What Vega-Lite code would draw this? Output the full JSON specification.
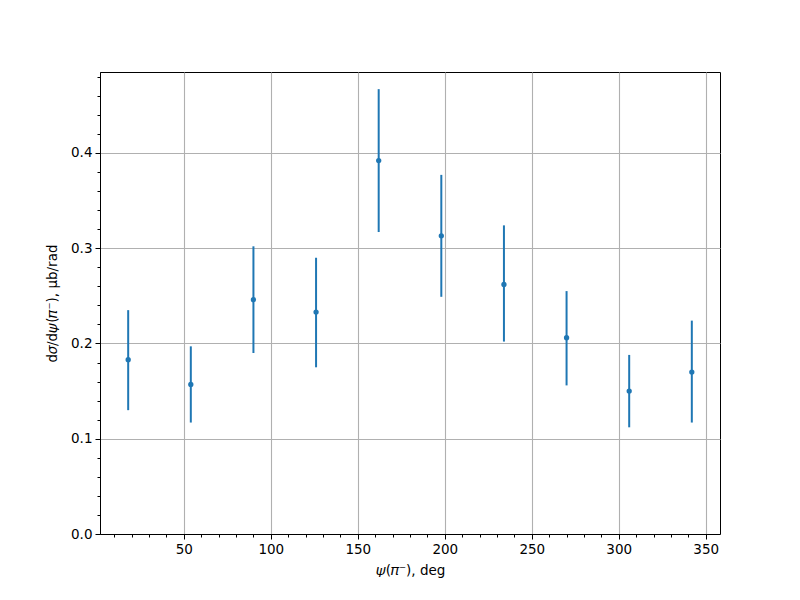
{
  "$schema": "https://vega.github.io/schema/vega-lite/v6.json",
  "width": 620,
  "height": 462,
  "autosize": {"type": "none"},
  "padding": {"left": 100, "top": 72, "right": 80, "bottom": 66},
  "background": "white",
  "config": {
    "view": {"stroke": "black", "strokeWidth": 1},
    "axis": {
      "labelFont": "DejaVu Sans",
      "titleFont": "DejaVu Sans",
      "labelFontSize": 13.5,
      "titleFontSize": 13.5,
      "titleFontWeight": "normal",
      "labelColor": "black",
      "titleColor": "black",
      "tickColor": "black",
      "domainColor": "black",
      "gridColor": "#b0b0b0",
      "gridWidth": 1.1
    }
  },
  "data": {
    "values": [
      {"psi": 18, "y": 0.183, "lo": 0.130, "hi": 0.235},
      {"psi": 54, "y": 0.157, "lo": 0.117, "hi": 0.197},
      {"psi": 90, "y": 0.246, "lo": 0.190, "hi": 0.302},
      {"psi": 126, "y": 0.233, "lo": 0.175, "hi": 0.290},
      {"psi": 162, "y": 0.392, "lo": 0.317, "hi": 0.467},
      {"psi": 198, "y": 0.313, "lo": 0.249, "hi": 0.377},
      {"psi": 234, "y": 0.262, "lo": 0.202, "hi": 0.324},
      {"psi": 270, "y": 0.206, "lo": 0.156, "hi": 0.255},
      {"psi": 306, "y": 0.150, "lo": 0.112, "hi": 0.188},
      {"psi": 342, "y": 0.170, "lo": 0.117, "hi": 0.224}
    ]
  },
  "resolve": {"axis": {"x": "independent", "y": "independent"}},
  "layer": [
    {
      "mark": {"type": "rule", "color": "#1f77b4", "strokeWidth": 2},
      "encoding": {
        "x": {
          "field": "psi", "type": "quantitative",
          "scale": {"domain": [1.8, 358.2], "nice": false, "zero": false},
          "axis": {
            "orient": "bottom",
            "values": [50, 100, 150, 200, 250, 300, 350],
            "title": "𝜓(𝜋⁻), deg",
            "tickSize": 5, "labelPadding": 3, "titlePadding": 8,
            "grid": true, "labelFlush": false
          }
        },
        "y": {
          "field": "lo", "type": "quantitative",
          "scale": {"domain": [0, 0.485], "nice": false},
          "axis": {
            "orient": "left",
            "values": [0, 0.1, 0.2, 0.3, 0.4],
            "format": ".1f",
            "title": "d𝜎/d𝜓(𝜋⁻), μb/rad",
            "tickSize": 5, "labelPadding": 3, "titlePadding": 11,
            "grid": true, "labelFlush": false
          }
        },
        "y2": {"field": "hi"}
      }
    },
    {
      "mark": {"type": "point", "filled": true, "color": "#1f77b4", "opacity": 1, "size": 28},
      "encoding": {
        "x": {
          "field": "psi", "type": "quantitative",
          "axis": {
            "orient": "bottom",
            "values": [10, 20, 30, 40, 60, 70, 80, 90, 110, 120, 130, 140, 160, 170, 180, 190, 210, 220, 230, 240, 260, 270, 280, 290, 310, 320, 330, 340],
            "labels": false, "title": null, "grid": false, "domain": false, "tickSize": 3
          }
        },
        "y": {
          "field": "y", "type": "quantitative",
          "axis": {
            "orient": "left",
            "values": [0.02, 0.04, 0.06, 0.08, 0.12, 0.14, 0.16, 0.18, 0.22, 0.24, 0.26, 0.28, 0.32, 0.34, 0.36, 0.38, 0.42, 0.44, 0.46, 0.48],
            "labels": false, "title": null, "grid": false, "domain": false, "tickSize": 3
          }
        }
      }
    }
  ]
}
